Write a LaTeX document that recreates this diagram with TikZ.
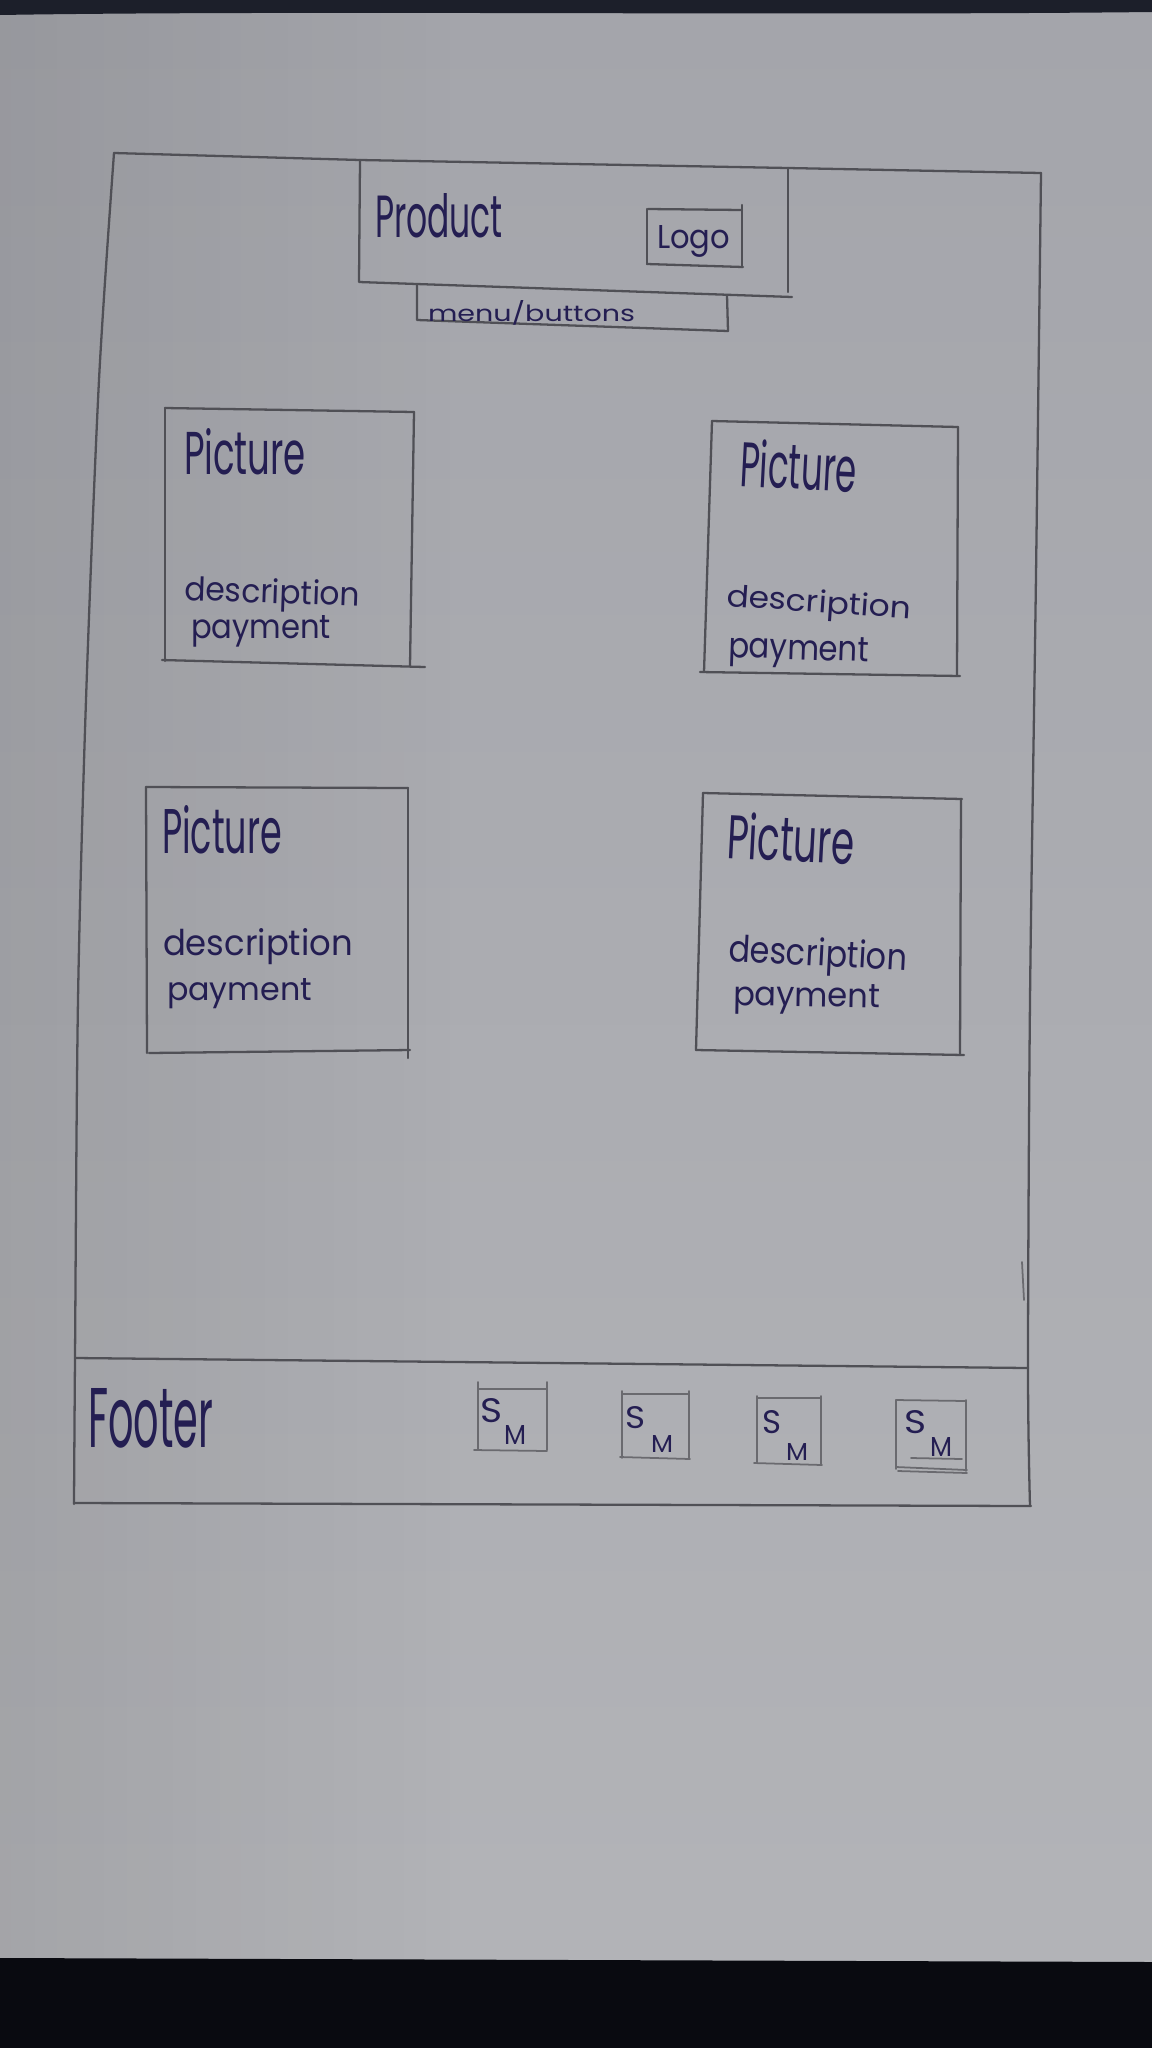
\documentclass[tikz,border=0pt]{standalone}
\usepackage{fontspec}
\newfontfamily\hand{Poppins}
\usetikzlibrary{fadings}

\definecolor{bandtop}{HTML}{1C1F2A}
\definecolor{bandbot}{HTML}{090A10}
\definecolor{papertop}{HTML}{A4A5AB}
\definecolor{papermid}{HTML}{C1C3C9}
\definecolor{paperbot}{HTML}{B3B4B8}
\definecolor{pencilc}{HTML}{505056}
\definecolor{inkc}{HTML}{241E52}

% one unit = one pixel of a 1152 x 2048 sheet
\newlength\pxu
\setlength\pxu{0.01cm}
% handwritten label squeezed into a given width and height (in px)
\newcommand{\hw}[3]{\resizebox{#1\pxu}{#2\pxu}{\hand #3}}

\begin{document}
\begin{tikzpicture}[x=0.01cm,y=-0.01cm,
  pencilline/.style={draw=pencilc, line width=0.65pt, line cap=round, line join=round},
  thinline/.style={draw=pencilc!85, line width=0.5pt, line cap=round},
  inktext/.style={text=inkc, inner sep=0pt, outer sep=0pt, anchor=base west}]

\useasboundingbox (0,0) rectangle (1152,2048);

% sheet of paper, a little darker towards the left edge
\shade[top color=papertop, middle color=papermid, bottom color=paperbot]
  (0,0) rectangle (1152,2048);
\fill[black, fill opacity=0.08, path fading=east] (0,0) rectangle (460,2048);

% dark table edges above and below the sheet
\fill[bandtop] (0,0) -- (1152,0) -- (1152,12) .. controls (800,16) and (300,10) .. (0,15) -- cycle;
\fill[bandbot] (0,1958) -- (1152,1962) -- (1152,2048) -- (0,2048) -- cycle;

% page frame
\draw[pencilline] (114,153) -- (360,160) -- (788,168) -- (1041,173);
\draw[pencilline] plot[smooth] coordinates {(114,153) (99,380) (86,700) (78,1000) (75,1358) (74,1504)};
\draw[pencilline] plot[smooth] coordinates {(1041,173) (1036,575) (1030,1000) (1028,1367) (1030,1506)};
\draw[thinline] (1022,1262) -- (1024,1300);

% header block
\draw[pencilline] (360,160) -- (359,282) -- (792,297);
\draw[pencilline] (788,168) -- (788,292);
\node[inktext] (product) at (375,237) {\hw{128}{44}{Product}};

% logo box
\draw[pencilline] (648,209) -- (742,210);
\draw[pencilline] (742,205) -- (742,267);
\draw[pencilline] (647,264) -- (743,267);
\draw[pencilline] (647,209) -- (647,264);
\node[inktext] (logo) at (657,248) {\hw{73}{23}{Logo}};

% menu bar
\draw[pencilline] (417,285) -- (417,320) -- (728,331);
\draw[pencilline] (727,295) -- (728,331);
\node[inktext] (menu) at (428,321) {\hw{207}{21}{menu/buttons}};

% product card, top left
\draw[pencilline] (165,408) -- (414,412);
\draw[pencilline] (165,408) -- (165,661);
\draw[pencilline] (414,412) -- (410,666);
\draw[pencilline] (162,660) -- (425,667);
\node[inktext] (pic1) at (184,474) {\hw{122}{46}{Picture}};
\node[inktext, rotate=-2] (desc1) at (184,600) {\hw{176}{25}{description}};
\node[inktext] (pay1) at (191,638) {\hw{140}{23}{payment}};

% product card, top right
\draw[pencilline] (712,421) -- (958,427);
\draw[pencilline] (712,421) -- (704,672);
\draw[pencilline] (958,427) -- (957,676);
\draw[pencilline] (700,672) -- (960,676);
\node[inktext, rotate=-3] (pic2) at (739,486) {\hw{117}{48}{Picture}};
\node[inktext, rotate=-4] (desc2) at (726,606) {\hw{185}{23}{description}};
\node[inktext, rotate=-2] (pay2) at (728,657) {\hw{141}{24}{payment}};

% product card, bottom left
\draw[pencilline] (146,787) -- (408,788);
\draw[pencilline] (146,787) -- (147,1053);
\draw[pencilline] (408,788) -- (408,1058);
\draw[pencilline] (149,1053) -- (410,1050);
\node[inktext] (pic3) at (162,853) {\hw{120}{48}{Picture}};
\node[inktext] (desc3) at (163,955) {\hw{190}{27}{description}};
\node[inktext] (pay3) at (167,1000) {\hw{145}{22}{payment}};

% product card, bottom right
\draw[pencilline] (703,793) -- (962,799);
\draw[pencilline] (703,793) -- (696,1050);
\draw[pencilline] (961,799) -- (960,1054);
\draw[pencilline] (696,1050) -- (964,1055);
\node[inktext, rotate=-3] (pic4) at (726,858) {\hw{128}{47}{Picture}};
\node[inktext, rotate=-3] (desc4) at (728,961) {\hw{179}{28}{description}};
\node[inktext, rotate=-1] (pay4) at (733,1005) {\hw{147}{23}{payment}};

% footer
\draw[pencilline] (76,1358) -- (1028,1368);
\draw[pencilline] (74,1503) -- (1031,1506);
\node[inktext] (footer) at (88,1447) {\hw{125}{59}{Footer}};

% social media buttons
\draw[thinline] (478,1382) -- (478,1450);
\draw[thinline] (547,1382) -- (547,1450);
\draw[thinline] (478,1389) -- (547,1389);
\draw[thinline] (474,1450) -- (547,1451);
\node[inktext] (s1) at (480,1422) {\hw{22}{24}{S}};
\node[inktext] (m1) at (504,1444) {\hw{22}{19}{M}};

\draw[thinline] (622,1391) -- (622,1458);
\draw[thinline] (689,1391) -- (689,1458);
\draw[thinline] (622,1394) -- (689,1394);
\draw[thinline] (620,1457) -- (690,1459);
\node[inktext] (s2) at (625,1428) {\hw{20}{22}{S}};
\node[inktext] (m2) at (651,1452) {\hw{22}{17}{M}};

\draw[thinline] (757,1396) -- (757,1463);
\draw[thinline] (821,1396) -- (821,1464);
\draw[thinline] (757,1398) -- (821,1398);
\draw[thinline] (754,1463) -- (822,1465);
\node[inktext] (s3) at (762,1433) {\hw{19}{23}{S}};
\node[inktext] (m3) at (786,1460) {\hw{22}{17}{M}};

\draw[thinline] (896,1400) -- (896,1469);
\draw[thinline] (966,1400) -- (966,1471);
\draw[thinline] (896,1400) -- (966,1401);
\draw[thinline] (896,1467) -- (967,1470);
\draw[thinline] (898,1471) -- (967,1473);
\draw[thinline] (911,1458) -- (962,1459);
\node[inktext] (s4) at (904,1433) {\hw{22}{23}{S}};
\node[inktext] (m4) at (930,1456) {\hw{22}{19}{M}};

\end{tikzpicture}
\end{document}
